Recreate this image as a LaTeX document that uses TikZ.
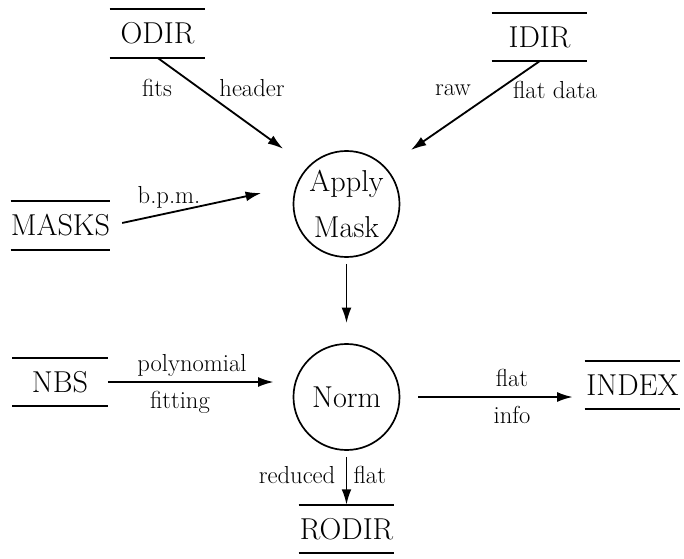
\documentclass[tikz,border=0pt]{standalone}
\usepackage{tikz}
\usetikzlibrary{arrows.meta}
\usetikzlibrary{positioning,calc}

\begin{document}
\begin{tikzpicture}[x=0.025cm, y=-0.025cm, >={Latex[length=11pt,width=7pt]}]
\tikzstyle{proc}=[circle, draw=black, line width=1.2pt, minimum size=2.65cm, inner sep=0pt, align=center, font=\fontsize{21.5}{33}\selectfont]
\tikzstyle{store}=[minimum width=2.375cm, minimum height=1.2cm, inner sep=0pt, font=\fontsize{21.5}{24}\selectfont]
\tikzstyle{flow}=[->, line width=1.3pt]
\tikzstyle{lbl}=[inner sep=1pt, font=\fontsize{17.5}{20}\selectfont]
\useasboundingbox (0,0) rectangle (684,559);
% processes
\node[proc] (apply) at (346.5,204) {Apply\\Mask};
\node[proc] (norm) at (346.5,397) {Norm};
% data stores
\node[store] (odir) at (157.5,33.5) {ODIR};
\node[store] (idir) at (539.5,37) {IDIR};
\node[store] (masks) at (60.5,225.5) {MASKS};
\node[store] (nbs) at (60,382) {NBS};
\node[store] (index) at (632.5,385) {INDEX};
\node[store] (rodir) at (346.5,529) {RODIR};
\foreach \s in {odir,idir,masks,nbs,index,rodir}
  \draw[line width=1.5pt] (\s.north west) -- (\s.north east) (\s.south west) -- (\s.south east);
% flows into Apply Mask
\draw[flow, shorten >=0.76cm] (odir.south) -- (apply.136);
\draw[flow, shorten >=0.76cm] (idir.south) -- (apply.43);
\draw[flow, shorten <=0.3cm, shorten >=0.89cm] (masks.east) -- (apply.160);
\draw[flow, shorten <=0.15cm, shorten >=0.5cm] (apply.south) -- (norm.north);
% flows round Norm
\draw[flow, shorten >=0.475cm] (nbs.east) -- (nbs.east -| norm.west);
\draw[flow, shorten <=0.45cm, shorten >=0.3cm] (norm.east) -- (norm.east -| index.west);
\draw[flow, shorten <=0.15cm] (norm.south) -- (rodir.north);
% flow labels
\node[lbl] (l1) at (157,88) {fits};
\node[lbl] (l2) at (252,88) {header};
\node[lbl] (l3) at (453,90) {raw};
\node[lbl] (l4) at (555,90) {flat data};
\node[lbl] (l5) at (169,197) {b.p.m.};
\node[lbl] (l6) at (192,365) {polynomial};
\node[lbl] (l7) at (180,402) {fitting};
\node[lbl] (l8) at (512,378) {flat};
\node[lbl] (l9) at (512,415) {info};
\node[lbl, anchor=east] (l10) at (337,475) {reduced};
\node[lbl, anchor=west] (l11) at (352,475) {flat};
\end{tikzpicture}
\end{document}
